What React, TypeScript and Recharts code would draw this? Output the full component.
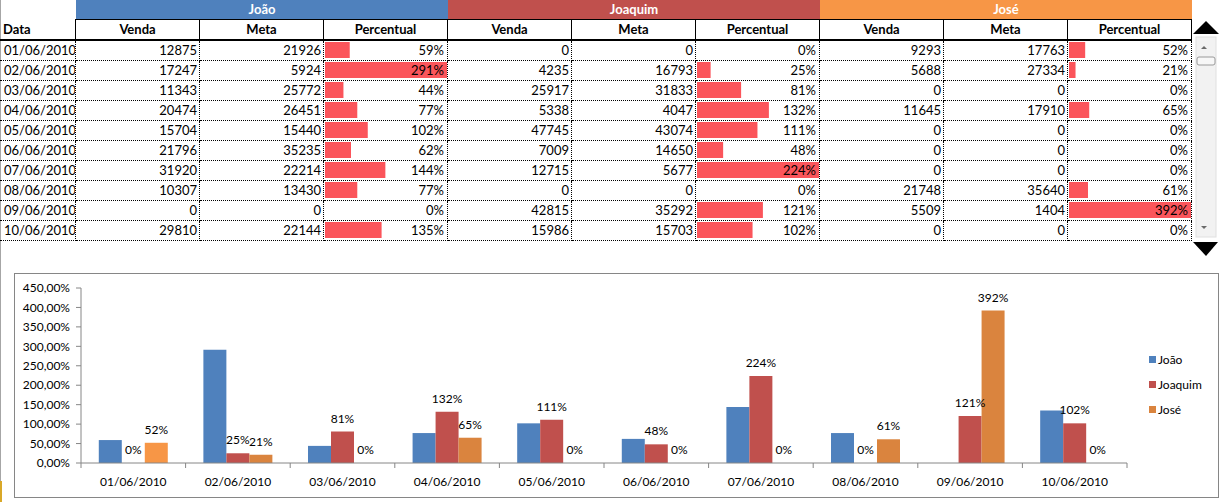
import React from 'react';
import { BarChart, Bar, XAxis, YAxis, Legend, LabelList, Cell } from 'recharts';

const dates = ['01/06/2010', '02/06/2010', '03/06/2010', '04/06/2010', '05/06/2010', '06/06/2010', '07/06/2010', '08/06/2010', '09/06/2010', '10/06/2010'];
const columnTitles = ['Venda', 'Meta', 'Percentual'];

const joaoVenda = [12875, 17247, 11343, 20474, 15704, 21796, 31920, 10307, 0, 29810];
const joaoMeta = [21926, 5924, 25772, 26451, 15440, 35235, 22214, 13430, 0, 22144];
const joaoPct = [59, 291, 44, 77, 102, 62, 144, 77, 0, 135];

const joaquimVenda = [0, 4235, 25917, 5338, 47745, 7009, 12715, 0, 42815, 15986];
const joaquimMeta = [0, 16793, 31833, 4047, 43074, 14650, 5677, 0, 35292, 15703];
const joaquimPct = [0, 25, 81, 132, 111, 48, 224, 0, 121, 102];

const joseVenda = [9293, 5688, 0, 11645, 0, 0, 0, 21748, 5509, 0];
const joseMeta = [17763, 27334, 0, 17910, 0, 0, 0, 35640, 1404, 0];
const josePct = [52, 21, 0, 65, 0, 0, 0, 61, 392, 0];

const yTicks = [0, 50, 100, 150, 200, 250, 300, 350, 400, 450];

const groups = [
  { name: 'João', band: '#4F81BD', venda: joaoVenda, meta: joaoMeta, pct: joaoPct },
  { name: 'Joaquim', band: '#C0504D', venda: joaquimVenda, meta: joaquimMeta, pct: joaquimPct },
  { name: 'José', band: '#F79646', venda: joseVenda, meta: joseMeta, pct: josePct },
];
const seriesNames = groups.map((g) => g.name);

const chartRows = dates.map((d, i) => ({ date: d, João: joaoPct[i], Joaquim: joaquimPct[i], José: josePct[i] }));

const FONT = 'Lato, Calibri, sans-serif';
const AXIS = '#868686';

// chart box
const CW = 1203;
const CH = 223;
const M = { top: 14, right: 91, bottom: 4, left: 6 };
const Y_W = 60;
const BAND = (CW - M.left - M.right - Y_W) / dates.length;

const COL_W = 124;
const DATE_W = 76;
const ROW_H = 20;
const ROW0 = 41;

const XTick = (props: any) => {
  const { x, y, payload, index } = props;
  const half = BAND / 2;
  return (
    <g>
      <line x1={x - half} x2={x - half} y1={y} y2={y + 5} stroke={AXIS} />
      {index === dates.length - 1 && <line x1={x + half} x2={x + half} y1={y} y2={y + 5} stroke={AXIS} />}
      <text x={x} y={y + 23} textAnchor="middle" fontSize={12} fontFamily={FONT} fill="#000">
        {payload.value}
      </text>
    </g>
  );
};

const LegendBox = (props: any) => {
  const items = [...(props.payload || [])].sort(
    (a: any, b: any) => seriesNames.indexOf(a.value) - seriesNames.indexOf(b.value)
  );
  return (
    <div style={{ fontFamily: FONT, fontSize: 12, color: '#000' }}>
      {items.map((p: any) => (
        <div key={p.value} style={{ height: 25, display: 'flex', alignItems: 'center' }}>
          <span style={{ width: 7, height: 7, background: p.color, display: 'inline-block', marginRight: 2 }} />
          <span>{p.value}</span>
        </div>
      ))}
    </div>
  );
};

// value labels, drawn for zero bars too
const TopLabel = (props: any) => {
  const { x, y, width, value } = props;
  if (value == null) return null;
  return (
    <text x={x + width / 2} y={y - 9} textAnchor="middle" fontSize={12} fontFamily={FONT} fill="#000">
      {`${value}%`}
    </text>
  );
};

function Box(props: { left: number; top: number; width: number; height: number; style?: React.CSSProperties; children?: React.ReactNode }) {
  const { left, top, width, height, style, children } = props;
  return (
    <div
      style={{
        position: 'absolute',
        left,
        top,
        width,
        height,
        boxSizing: 'border-box',
        overflow: 'hidden',
        whiteSpace: 'nowrap',
        ...style,
      }}
    >
      {children}
    </div>
  );
}

const dotted = '1px dotted #000';

export default function App() {
  return (
    <div style={{ position: 'absolute', left: 0, top: 0, width: 1221, height: 502, background: '#fff', overflow: 'hidden', fontFamily: FONT, fontSize: 13, color: '#000' }}>
      {/* window edge */}
      <div style={{ position: 'absolute', left: 0, top: 0, width: 1, height: 481, background: '#A6A6A6' }} />
      <div style={{ position: 'absolute', left: 0, top: 481, width: 2, height: 21, background: '#D9A828' }} />

      {/* group bands */}
      {groups.map((g, gi) => (
        <Box key={g.name} left={DATE_W + gi * COL_W * 3} top={0} width={COL_W * 3} height={19}
          style={{ background: g.band, color: '#fff', fontWeight: 700, textAlign: 'center', lineHeight: '19px' }}>
          {g.name}
        </Box>
      ))}

      {/* column headers */}
      <Box left={0} top={19} width={DATE_W} height={22}
        style={{ borderRight: '1px solid #000', borderBottom: '2px solid #000', fontWeight: 700, paddingLeft: 3, lineHeight: '20px' }}>
        Data
      </Box>
      {groups.map((g, gi) =>
        columnTitles.map((t, ci) => (
          <Box key={g.name + t} left={DATE_W + (gi * 3 + ci) * COL_W} top={19} width={COL_W} height={22}
            style={{ borderTop: '1px solid #000', borderRight: '1px solid #000', borderBottom: '2px solid #000', fontWeight: 700, textAlign: 'center', lineHeight: '19px' }}>
            {t}
          </Box>
        ))
      )}

      {/* data bars inside Percentual cells */}
      {groups.map((g, gi) => (
        <div key={'bars' + g.name} style={{ position: 'absolute', left: DATE_W + (gi * 3 + 2) * COL_W + 1, top: ROW0 - 1 }}>
          <BarChart layout="vertical" width={122} height={ROW_H * dates.length}
            data={dates.map((d, i) => ({ date: d, pct: g.pct[i] }))}
            margin={{ top: 0, right: 0, bottom: 0, left: 0 }} barCategoryGap={2}>
            <XAxis type="number" hide domain={[0, 'dataMax']} />
            <YAxis type="category" dataKey="date" hide />
            <Bar dataKey="pct" fill="#FB555B" isAnimationActive={false} />
          </BarChart>
        </div>
      ))}

      {/* data rows */}
      {dates.map((d, r) => (
        <React.Fragment key={d}>
          <Box left={0} top={ROW0 + r * ROW_H} width={DATE_W} height={ROW_H}
            style={{ borderRight: dotted, borderBottom: dotted, paddingLeft: 4, lineHeight: '19px' }}>
            {d}
          </Box>
          {groups.map((g, gi) =>
            [g.venda[r], g.meta[r], `${g.pct[r]}%`].map((v, ci) => (
              <Box key={g.name + ci} left={DATE_W + (gi * 3 + ci) * COL_W} top={ROW0 + r * ROW_H} width={COL_W} height={ROW_H}
                style={{ borderRight: dotted, borderBottom: dotted, textAlign: 'right', paddingRight: ci === 2 ? 3 : 2, lineHeight: '19px' }}>
                {v}
              </Box>
            ))
          )}
        </React.Fragment>
      ))}

      {/* scroll control */}
      <svg style={{ position: 'absolute', left: 1192, top: 0 }} width={29} height={260}>
        <polygon points="1,34 27,34 14,21" fill="#000" />
        <rect x={4} y={37} width={20} height={200} fill="#F2F2F2" stroke="#E0E0E0" />
        <polygon points="9,49 15,49 12,46" fill="#6A6A6A" />
        <rect x={5} y={57} width={18} height={8} rx={2} fill="#F7F7F7" stroke="#9A9A9A" />
        <polygon points="9,226 15,226 12,229" fill="#6A6A6A" />
        <polygon points="1,242 26,242 14,256" fill="#000" />
      </svg>

      {/* chart */}
      <div style={{ position: 'absolute', left: 14, top: 273, width: CW + 2, height: CH + 2, border: `1px solid ${AXIS}`, boxSizing: 'border-box', background: '#fff' }}>
        <BarChart width={CW} height={CH} data={chartRows} margin={M} barCategoryGap="17%" barGap={0}>
          <XAxis dataKey="date" interval={0} tickLine={false} tickSize={0} tickMargin={0} height={30} stroke={AXIS} tick={<XTick />} />
          <YAxis width={Y_W} domain={[0, 450]} ticks={yTicks} interval={0} stroke={AXIS} tickSize={5} tickMargin={6}
            tick={{ fontSize: 12, fontFamily: FONT, fill: '#000' }}
            tickFormatter={(v: number) => `${v.toFixed(2).replace('.', ',')}%`} />
          <Legend layout="vertical" align="center" verticalAlign="middle" content={<LegendBox />}
            wrapperStyle={{ left: 1134, top: 73, width: 70 }} />
          <Bar dataKey="João" fill="#4F81BD" isAnimationActive={false} />
          <Bar dataKey="Joaquim" fill="#C0504D" minPointSize={0.01} isAnimationActive={false}>
            <LabelList dataKey="Joaquim" content={<TopLabel />} />
          </Bar>
          <Bar dataKey="José" fill="#DA843E" minPointSize={0.01} isAnimationActive={false}>
            {chartRows.map((row, i) => (
              <Cell key={row.date} fill={i === 0 ? '#F79646' : '#DA843E'} />
            ))}
            <LabelList dataKey="José" content={<TopLabel />} />
          </Bar>
        </BarChart>
      </div>
    </div>
  );
}
